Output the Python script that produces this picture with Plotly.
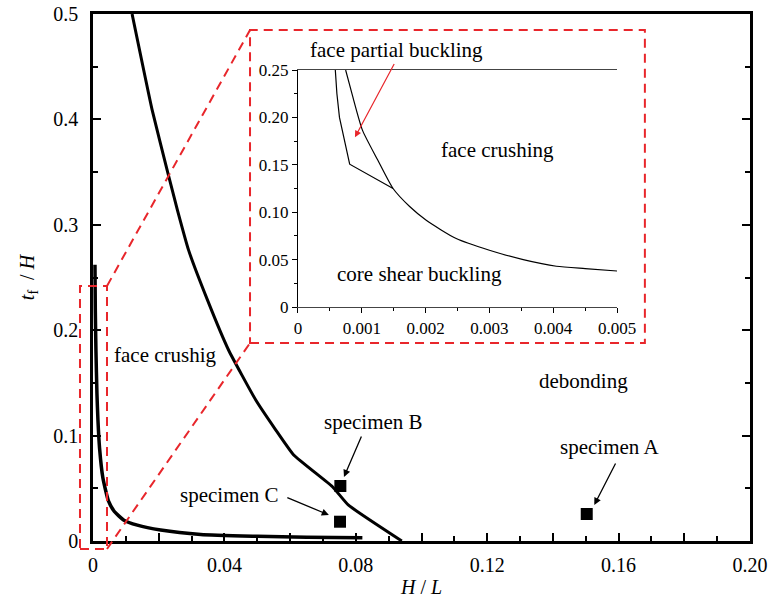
import plotly.graph_objects as go

# ---------------- data ----------------
# main plot: boundary between face crushing and debonding
crush_x = [0.0119, 0.0180, 0.0228, 0.0257, 0.0291, 0.0348, 0.0413, 0.0495, 0.0555, 0.0611, 0.0729, 0.0777, 0.0940]
crush_y = [0.500, 0.409, 0.349, 0.314, 0.276, 0.229, 0.181, 0.134, 0.106, 0.0816, 0.0515, 0.0342, 0.0]

# main plot: boundary near origin (core shear buckling)
shear_x = [0.0006, 0.0007, 0.0009, 0.0012, 0.0015, 0.0020, 0.0030, 0.0047, 0.0065, 0.0093, 0.0135, 0.0206, 0.0328, 0.050, 0.065, 0.082]
shear_y = [0.262, 0.220, 0.180, 0.140, 0.115, 0.088, 0.060, 0.038, 0.028, 0.020, 0.015, 0.0104, 0.0062, 0.0045, 0.0035, 0.0030]

# specimens
spec_names = ["specimen A", "specimen B", "specimen C"]
spec_x = [0.1503, 0.0753, 0.0752]
spec_y = [0.0256, 0.0522, 0.0183]

# inset curves
inA_x = [0.000585, 0.00061, 0.00065, 0.00081, 0.00149]
inA_y = [0.250, 0.225, 0.200, 0.1507, 0.125]
inB_x = [0.000747, 0.00085, 0.00101, 0.00125, 0.00149, 0.00175, 0.00201, 0.00248, 0.0030, 0.00353, 0.00405, 0.0045, 0.0050]
inB_y = [0.250, 0.224, 0.1866, 0.155, 0.125, 0.106, 0.0915, 0.0722, 0.0599, 0.050, 0.043, 0.0405, 0.038]

# tick labels
main_xticks = [0, 0.02, 0.04, 0.06, 0.08, 0.10, 0.12, 0.14, 0.16, 0.18, 0.20]
main_xtext = ["0", "", "0.04", "", "0.08", "", "0.12", "", "0.16", "", "0.20"]
main_yticks = [0, 0.1, 0.2, 0.3, 0.4, 0.5]
main_ytext = ["0", "0.1", "0.2", "0.3", "0.4", "0.5"]
in_xticks = [0, 0.001, 0.002, 0.003, 0.004, 0.005]
in_xtext = ["0", "0.001", "0.002", "0.003", "0.004", "0.005"]
in_yticks = [0, 0.05, 0.10, 0.15, 0.20, 0.25]
in_ytext = ["0", "0.05", "0.10", "0.15", "0.20", "0.25"]

FONT = "Liberation Serif"
RED = "#e8262b"

fig = go.Figure()
fig.add_trace(go.Scatter(x=crush_x, y=crush_y, mode="lines",
                         line=dict(color="black", width=3, shape="spline", smoothing=0.4),
                         showlegend=False, xaxis="x", yaxis="y"))
fig.add_trace(go.Scatter(x=shear_x, y=shear_y, mode="lines",
                         line=dict(color="black", width=3.5, shape="spline", smoothing=0.5),
                         showlegend=False, xaxis="x", yaxis="y"))
fig.add_trace(go.Scatter(x=spec_x, y=spec_y, mode="markers",
                         marker=dict(symbol="square", size=12, color="black"),
                         showlegend=False, xaxis="x", yaxis="y"))
fig.add_trace(go.Scatter(x=inA_x, y=inA_y, mode="lines",
                         line=dict(color="black", width=1.2), showlegend=False, xaxis="x2", yaxis="y2"))
fig.add_trace(go.Scatter(x=inB_x, y=inB_y, mode="lines",
                         line=dict(color="black", width=1.2, shape="spline", smoothing=0.6),
                         showlegend=False, xaxis="x2", yaxis="y2"))

axis_common = dict(showgrid=False, zeroline=False, color="black", automargin=False,
                   ticklabeloverflow="allow")

fig.update_layout(
    width=772, height=600,
    margin=dict(l=93, r=22, t=14, b=59),
    paper_bgcolor="white", plot_bgcolor="white",
    font=dict(family=FONT, size=20, color="black"),
    xaxis=dict(**axis_common, range=[0, 0.2], domain=[0, 1],
               tickvals=main_xticks, ticktext=main_xtext,
               ticks="inside", ticklen=8, tickwidth=2, tickcolor="black",
               minor=dict(dtick=0.01, tick0=0, ticks="inside", ticklen=5, tickwidth=2, tickcolor="black"),
               showline=True, linewidth=2.5, linecolor="black", mirror=True,
               tickfont=dict(size=20, family=FONT), ticklabelstandoff=4,
               title=dict(text="<i>H</i> / <i>L</i>", font=dict(size=20, family=FONT), standoff=6)),
    yaxis=dict(**axis_common, range=[0, 0.5], domain=[0, 1],
               tickvals=main_yticks, ticktext=main_ytext,
               ticks="inside", ticklen=8, tickwidth=2, tickcolor="black",
               minor=dict(dtick=0.05, tick0=0, ticks="inside", ticklen=5, tickwidth=2, tickcolor="black"),
               showline=True, linewidth=2.5, linecolor="black", mirror="ticks",
               tickfont=dict(size=20, family=FONT), ticklabelstandoff=8,
               title=dict(text="<i>t</i><sub>f</sub>  / <i>H</i>", font=dict(size=20, family=FONT), standoff=14)),
    xaxis2=dict(**axis_common, range=[0, 0.005], domain=[0.312, 0.7976], anchor="y2",
                tickvals=in_xticks, ticktext=in_xtext,
                ticks="outside", ticklen=5, tickwidth=1, tickcolor="black",
                minor=dict(dtick=0.0005, tick0=0, ticks="outside", ticklen=3, tickwidth=1, tickcolor="black"),
                showline=True, linewidth=1.2, linecolor="#444444", mirror=True,
                tickfont=dict(size=17, family=FONT)),
    yaxis2=dict(**axis_common, range=[0, 0.25], domain=[0.444, 0.8937], anchor="x2",
                tickvals=in_yticks, ticktext=in_ytext,
                ticks="outside", ticklen=5, tickwidth=1, tickcolor="black",
                minor=dict(dtick=0.025, tick0=0, ticks="outside", ticklen=3, tickwidth=1, tickcolor="black"),
                showline=True, linewidth=1.2, linecolor="black",
                tickfont=dict(size=17, family=FONT)),
)

# red dashed zoom indicators (paper coordinates of the main plot area)
dash = "9px,6px"
fig.add_shape(type="rect", xref="paper", yref="paper", x0=-0.0198, x1=0.0213, y0=-0.0152, y1=0.4839,
              line=dict(color=RED, width=2, dash=dash))
fig.add_shape(type="rect", xref="paper", yref="paper", x0=0.239, x1=0.840, y0=0.3757, y1=0.9696,
              line=dict(color=RED, width=2, dash=dash))
fig.add_shape(type="line", xref="paper", yref="paper", x0=0.0213, y0=0.4839, x1=0.239, y1=0.9696,
              line=dict(color=RED, width=2, dash=dash))
fig.add_shape(type="line", xref="paper", yref="paper", x0=0.0213, y0=-0.0152, x1=0.239, y1=0.3757,
              line=dict(color=RED, width=2, dash=dash))

# text labels
def txt(x, y, s, xref="x", yref="y", size=21):
    fig.add_annotation(x=x, y=y, xref=xref, yref=yref, text=s, showarrow=False,
                       xanchor="center", yanchor="middle",
                       font=dict(size=size, family=FONT, color="black"))

txt(0.0221, 0.1765, "face crushig")
txt(0.1493, 0.152, "debonding")
txt(0.0855, 0.113, "specimen B")
txt(0.0416, 0.0436, "specimen C")
txt(0.1572, 0.0892, "specimen A")

def arrow(x, y, ax, ay, xref="x", yref="y", axref="x", ayref="y", color="black", width=1.3):
    fig.add_annotation(x=x, y=y, ax=ax, ay=ay, xref=xref, yref=yref, axref=axref, ayref=ayref,
                       text="", showarrow=True, arrowhead=2, arrowsize=1.1, arrowwidth=width,
                       arrowcolor=color)

arrow(0.0764, 0.0607, 0.0819, 0.1006)
arrow(0.0718, 0.0247, 0.0587, 0.0417)
arrow(0.1526, 0.0342, 0.1593, 0.0750)

# inset labels (domain refs so the label above the inset is not hidden)
txt(0.00154 / 0.005, 0.271 / 0.25, "face partial buckling", xref="x2 domain", yref="y2 domain")
txt(0.00312, 0.1656, "face crushing", xref="x2", yref="y2")
txt(0.00191, 0.0348, "core shear buckling", xref="x2", yref="y2")
arrow(0.000893 / 0.005, 0.179 / 0.25, 0.00152 / 0.005, 0.258 / 0.25,
      xref="x2 domain", yref="y2 domain", axref="x2 domain", ayref="y2 domain", color=RED, width=1.2)

# remove the default page margin so the 772x600 figure fills the window exactly
fig.write_html("out.html", config={"displayModeBar": False},
               post_script="document.body.style.margin='0';document.body.style.overflow='hidden';")
